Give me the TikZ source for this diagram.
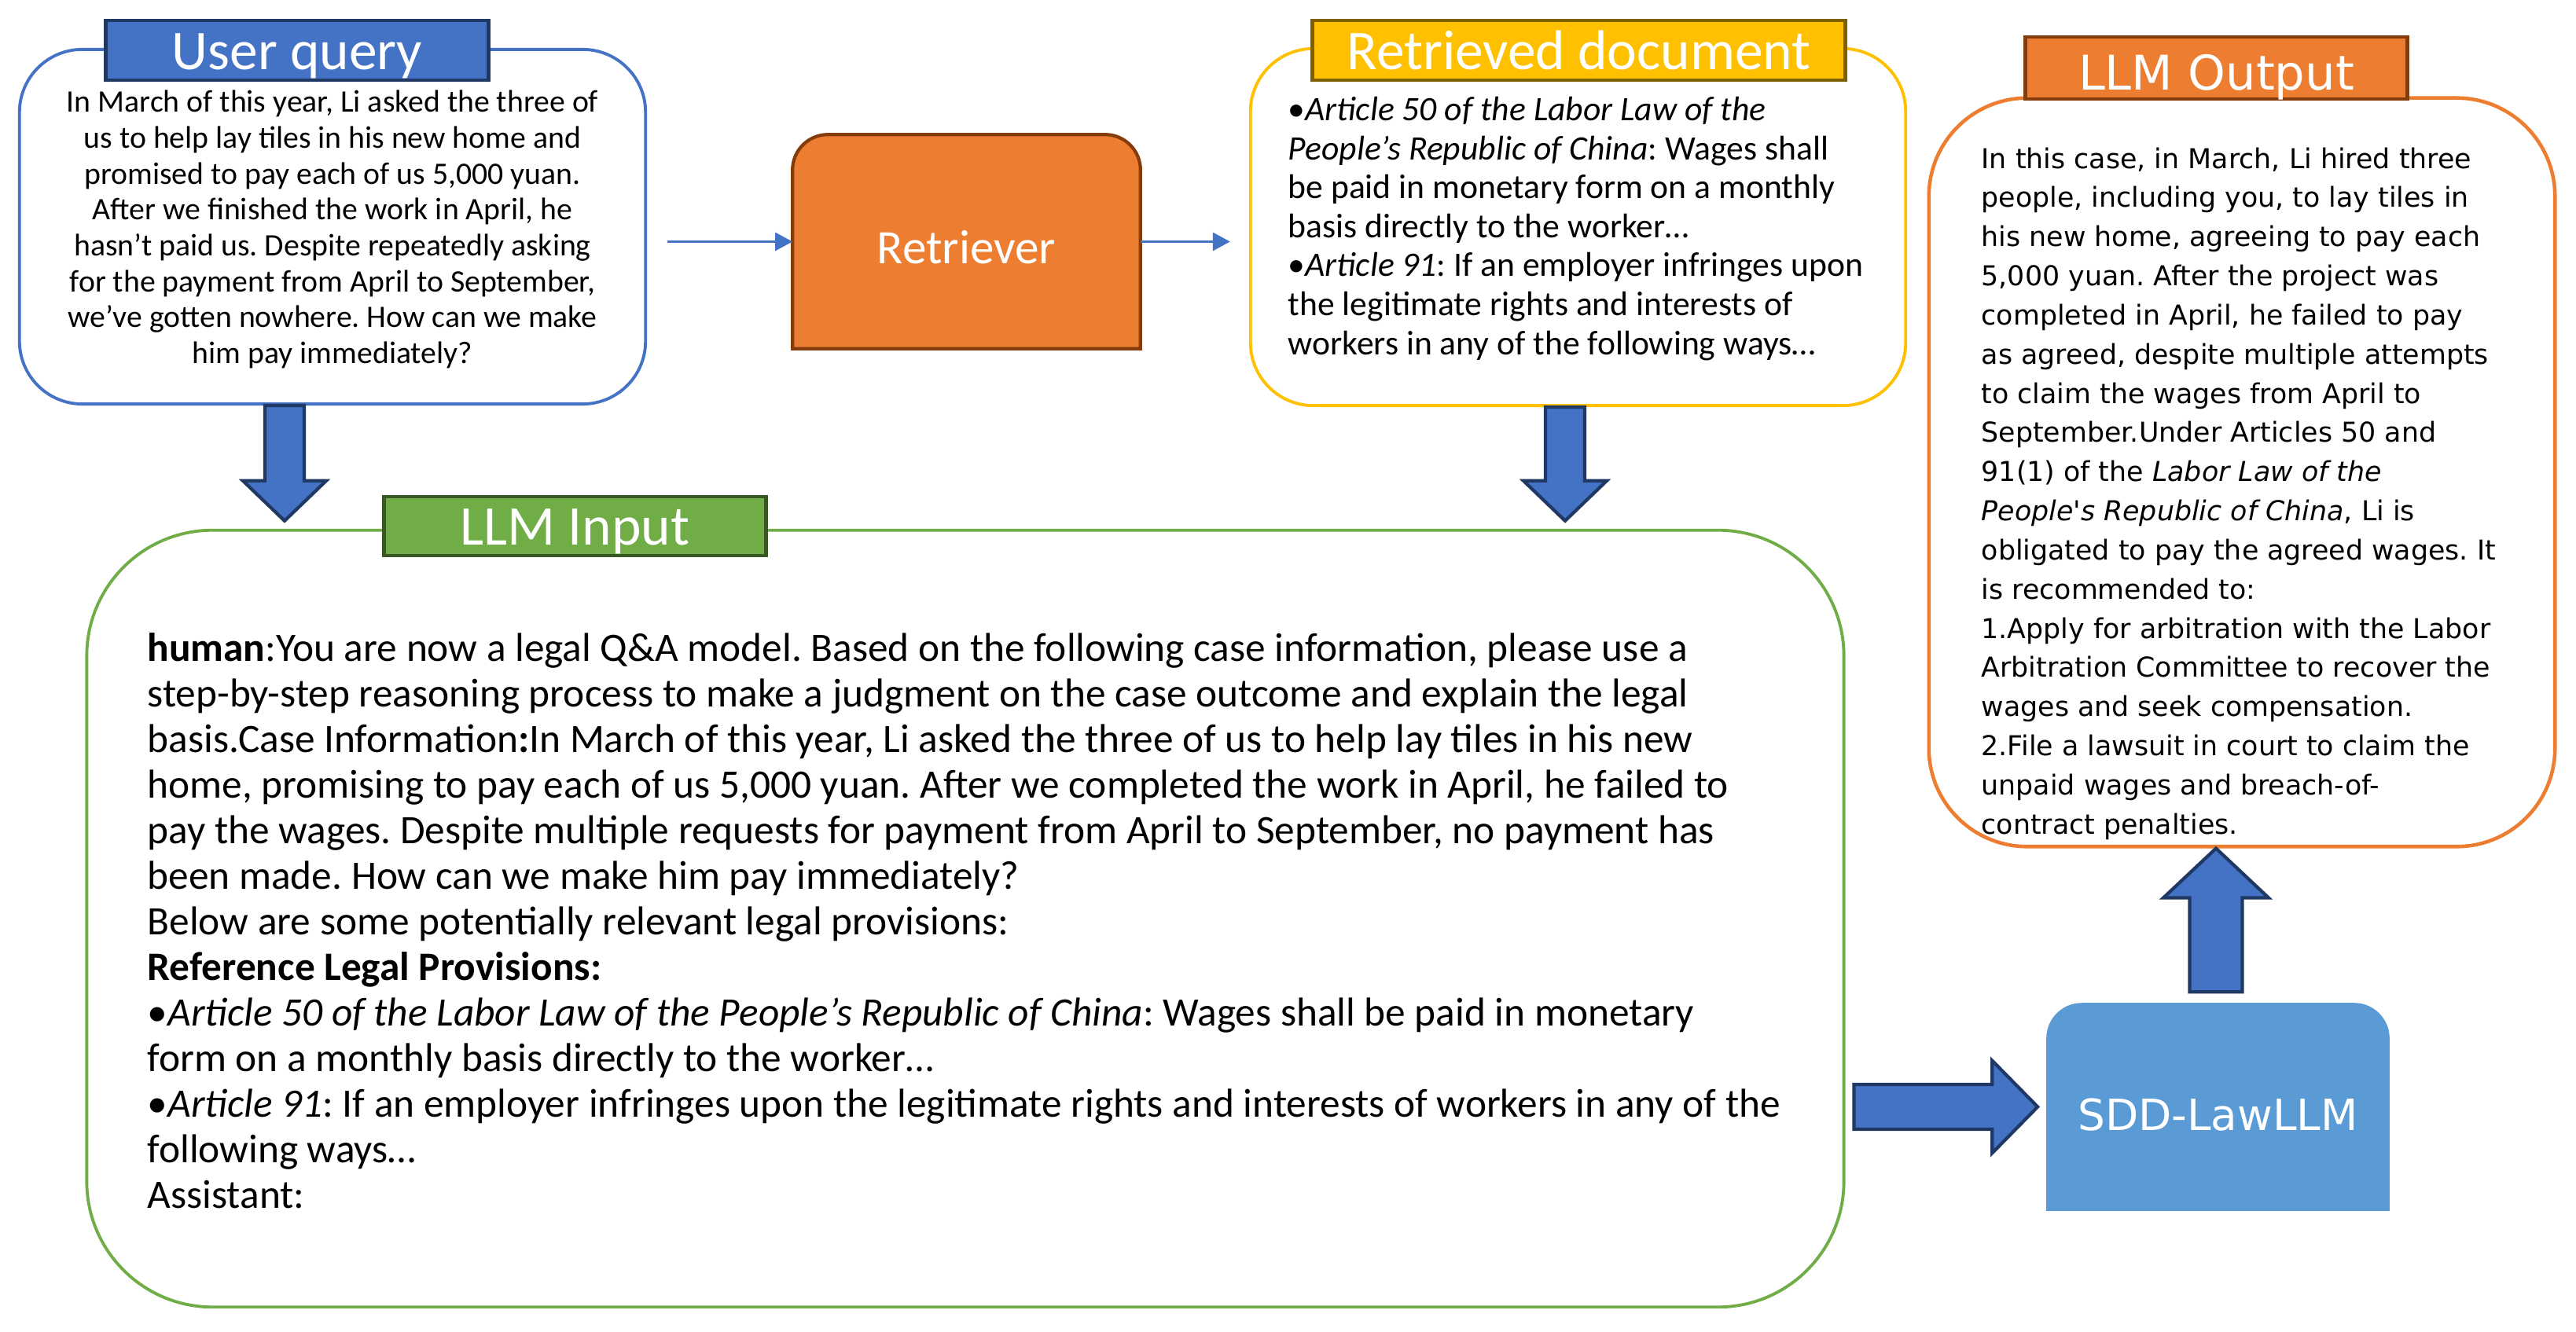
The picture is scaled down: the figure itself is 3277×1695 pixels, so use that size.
\documentclass[tikz,border=0pt]{standalone}
\usepackage{fontspec}
\setmainfont{Carlito}
\newfontfamily\djv{DejaVu Sans}
\usetikzlibrary{calc,arrows.meta,backgrounds}
\definecolor{qblue}{HTML}{4472C4}
\definecolor{navy}{HTML}{1F3864}
\definecolor{qorange}{HTML}{ED7D31}
\definecolor{dbrown}{HTML}{843C0C}
\definecolor{qyellow}{HTML}{FFC000}
\definecolor{dyellow}{HTML}{7F6000}
\definecolor{qgreen}{HTML}{70AD47}
\definecolor{dgreen}{HTML}{385723}
\definecolor{sddblue}{HTML}{5B9BD5}
\newcommand\blockarr[5]{%
  \coordinate (hb) at ($(#2)!#5!(#1)$);
  \draw[blockarrow] ($(#1)!#3!90:(#2)$) -- ($(hb)!#3!90:(#2)$) -- ($(hb)!#4!90:(#2)$) -- (#2)
    -- ($(hb)!#4!-90:(#2)$) -- ($(hb)!#3!-90:(#2)$) -- ($(#1)!#3!-90:(#2)$) -- cycle;}
\newcommand\toproundbox[3]{%
  \draw[#3] (#1.south west) -- ([yshift=-#2]#1.north west) arc[start angle=180,end angle=90,radius=#2]
    -- ([xshift=-#2]#1.north east) arc[start angle=90,end angle=0,radius=#2] -- (#1.south east) -- cycle;}
\frenchspacing
\begin{document}
\begin{tikzpicture}[x=0.01cm,y=-0.01cm,
  panel/.style={draw, line width=1.1pt, fill=white, inner sep=0pt},
  tag/.style={line width=1.4pt, text=white, inner sep=0pt, text height=14.4pt, text depth=0.5pt,
    font=\fontsize{20.3pt}{22pt}\selectfont},
  bodytext/.style={inner sep=0pt, align=left, anchor=west},
  link/.style={draw=qblue, line width=0.85pt, -{Triangle[length=0.22cm,width=0.23cm]}},
  blockarrow/.style={fill=qblue, draw=navy, line width=1.2pt, line join=miter}]
\useasboundingbox (0,0) rectangle (3277,1695);

% panels
\node[panel, draw=qblue, rounded corners=0.8cm, minimum width=7.96cm, minimum height=4.51cm] (uq) at (423,288.5) {};
\node[panel, draw=qyellow, rounded corners=0.8cm, minimum width=8.33cm, minimum height=4.54cm] (rd) at (2007.5,289) {};
\node[panel, draw=qorange, rounded corners=1.25cm, line width=1.3pt, minimum width=7.96cm, minimum height=9.52cm] (out) at (2852,601) {};
\node[panel, draw=qgreen, rounded corners=1.6cm, minimum width=22.34cm, minimum height=9.88cm] (llmin) at (1228,1169) {};

% retriever and model boxes
\node[inner sep=0pt, minimum width=4.41cm, minimum height=2.71cm, text=white, text height=16.5pt, text depth=0.5pt,
  font=\fontsize{17.4pt}{19pt}\selectfont] (retr) at (1229.5,307.5) {Retriever};
\node[inner sep=0pt, minimum width=4.35cm, minimum height=2.63cm, text=white, text height=17.6pt, text depth=0.5pt,
  font=\djv\fontsize{15.6pt}{17pt}\selectfont] (sdd) at (2821.5,1408.5) {SDD-LawLLM};
\begin{scope}[on background layer]
  \toproundbox{retr}{0.45cm}{fill=qorange, draw=dbrown, line width=1.2pt}
  \toproundbox{sdd}{0.45cm}{fill=sddblue, draw=none}
\end{scope}

% tags
\node[tag, fill=qblue, draw=navy, minimum width=4.86cm, minimum height=0.76cm] (uqlab) at (378,64) {User query};
\node[tag, fill=qyellow, draw=dyellow, minimum width=6.77cm, minimum height=0.76cm] (rdlab) at (2008.5,64) {Retrieved document};
\node[tag, fill=qorange, draw=dbrown, minimum width=4.85cm, minimum height=0.79cm, text height=16.2pt, text depth=0.5pt,
  font=\djv\fontsize{17.3pt}{19pt}\selectfont] (outlab) at (2819.5,86.5) {LLM Output};
\node[tag, fill=qgreen, draw=dgreen, minimum width=4.85cm, minimum height=0.75cm] (llminlab) at (731.5,669.5) {LLM Input};

% texts
\node[inner sep=0pt, align=center, font=\fontsize{11.3pt}{13pt}\selectfont] (uqtxt) at (423,292) {%
In March of this year, Li asked the three of\\
us to help lay tiles in his new home and\\
promised to pay each of us 5,000 yuan.\\
After we finished the work in April, he\\
hasn't paid us. Despite repeatedly asking\\
for the payment from April to September,\\
we’ve gotten nowhere. How can we make\\
him pay immediately?};

\node[bodytext, font=\fontsize{12.4pt}{14.1pt}\selectfont] (rdtxt) at (1638,291) {%
•\textit{Article 50 of the Labor Law of the}\\
\textit{People's Republic of China}: Wages shall\\
be paid in monetary form on a monthly\\
basis directly to the worker…\\
•\textit{Article 91}: If an employer infringes upon\\
the legitimate rights and interests of\\
workers in any of the following ways…};

\node[bodytext, font=\djv\fontsize{9.9pt}{14.17pt}\selectfont] (outtxt) at (2520,628) {%
In this case, in March, Li hired three\\
people, including you, to lay tiles in\\
his new home, agreeing to pay each\\
5,000 yuan. After the project was\\
completed in April, he failed to pay\\
as agreed, despite multiple attempts\\
to claim the wages from April to\\
September.Under Articles 50 and\\
91(1) of the \textit{Labor Law of the}\\
\textit{People's Republic of China}, Li is\\
obligated to pay the agreed wages. It\\
is recommended to:\\
1.Apply for arbitration with the Labor\\
Arbitration Committee to recover the\\
wages and seek compensation.\\
2.File a lawsuit in court to claim the\\
unpaid wages and breach-of-\\
contract penalties.};

\node[bodytext, font=\fontsize{14.6pt}{16.5pt}\selectfont] (intxt) at (187,1172) {%
\textbf{human}:You are now a legal Q\&A model. Based on the following case information, please use a\\
step-by-step reasoning process to make a judgment on the case outcome and explain the legal\\
basis.Case Information\textbf{:}In March of this year, Li asked the three of us to help lay tiles in his new\\
home, promising to pay each of us 5,000 yuan. After we completed the work in April, he failed to\\
pay the wages. Despite multiple requests for payment from April to September, no payment has\\
been made. How can we make him pay immediately?\\
Below are some potentially relevant legal provisions:\\
\textbf{Reference Legal Provisions:}\\
•\textit{Article 50 of the Labor Law of the People's Republic of China}: Wages shall be paid in monetary\\
form on a monthly basis directly to the worker…\\
•\textit{Article 91}: If an employer infringes upon the legitimate rights and interests of workers in any of the\\
following ways…\\
Assistant:};

% thin connectors
\draw[link] ($(uq.east |- retr.west)+(26,0)$) -- (retr.west);
\draw[link] (retr.east) -- ($(rd.west |- retr.east)+(-24,0)$);

% block arrows
\coordinate (a1s) at ($(uq.south)+(-61,0)$);
\coordinate (a1e) at ($(a1s |- llmin.north)+(0,-10)$);
\blockarr{a1s}{a1e}{0.25cm}{0.53cm}{0.51cm}
\coordinate (a2s) at ($(rd.south)+(-16.5,0)$);
\coordinate (a2e) at ($(a2s |- llmin.north)+(0,-10)$);
\blockarr{a2s}{a2e}{0.25cm}{0.53cm}{0.51cm}
\coordinate (a3s) at ($(llmin.east |- sdd.west)+(11,0)$);
\coordinate (a3e) at ($(sdd.west)+(-11,0)$);
\blockarr{a3s}{a3e}{0.285cm}{0.59cm}{0.58cm}
\coordinate (a4s) at ($(sdd.north)+(-2.5,-14)$);
\coordinate (a4e) at (a4s |- out.south);
\blockarr{a4s}{a4e}{0.335cm}{0.67cm}{0.63cm}
\end{tikzpicture}
\end{document}
